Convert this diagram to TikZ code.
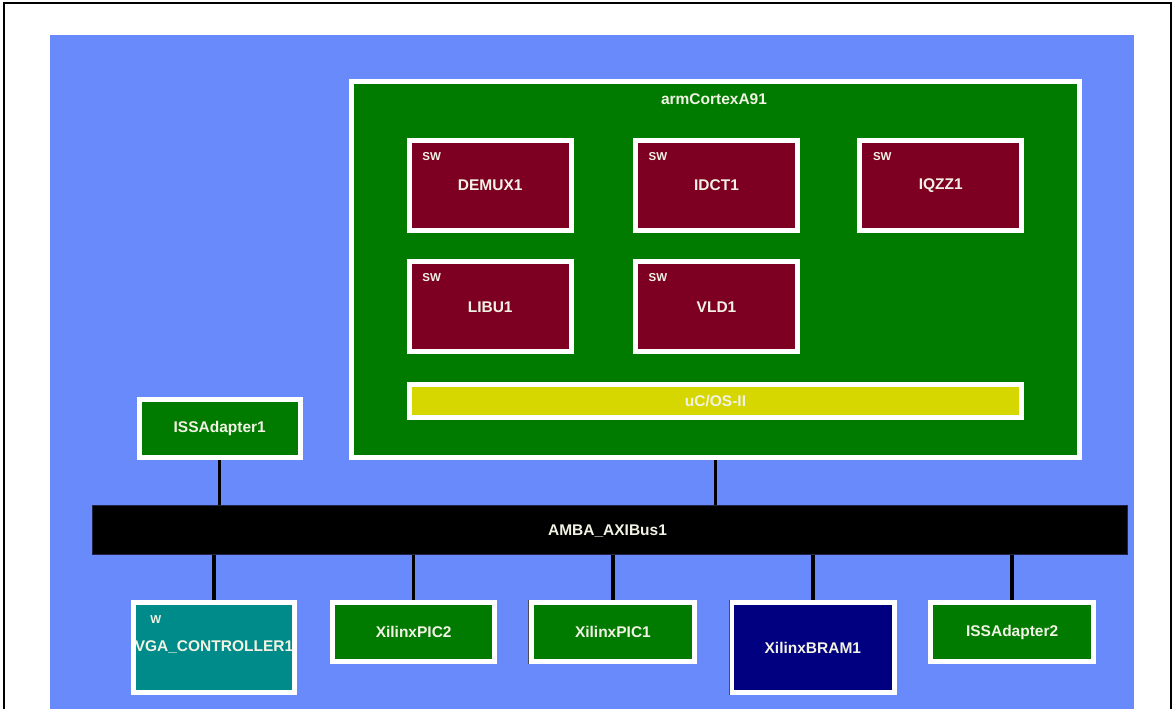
\documentclass[tikz,border=0pt]{standalone}
\usepackage{fontspec}
\setmainfont{Liberation Sans}
\definecolor{bgblue}{RGB}{105,138,250}
\definecolor{cpugreen}{RGB}{0,123,0}
\definecolor{swred}{RGB}{125,0,34}
\definecolor{osyellow}{RGB}{214,214,0}
\definecolor{vgateal}{RGB}{0,139,139}
\definecolor{bramnavy}{RGB}{0,0,128}
\definecolor{txt}{RGB}{242,242,228}
\definecolor{busedge}{RGB}{35,35,70}
\tikzset{
  blk/.style={draw=white, line width=5pt, inner sep=0pt, rectangle},
  lbl/.style={text=txt, font=\bfseries\fontsize{15.5}{18}\selectfont, inner sep=0pt},
  swlbl/.style={text=txt, font=\bfseries\fontsize{11.5}{13}\selectfont, inner sep=0pt},
  link/.style={draw=black, line width=3.5pt}
}
\begin{document}
\begin{tikzpicture}[x=1pt,y=-1pt]
\useasboundingbox (0,0) rectangle (1176,709);
\begin{scope}
\clip (0,0) rectangle (1176,709);
\fill[white] (0,0) rectangle (1176,709);
\draw[black, line width=2pt] (3.7,3) rectangle (1171,730);
\fill[bgblue] (50,35) rectangle (1133.5,730);

% connectors (drawn first, under boxes)
\coordinate (c0) at (0,0);
\end{scope}

% nodes
\node[blk, fill=cpugreen, minimum width=728.3pt, minimum height=375.7pt] (arm) at (715.65,269.65) {};
\node[lbl] (armlbl) at (714,99) {armCortexA91};

\node[blk, fill=swred, minimum width=162pt, minimum height=90pt] (demux) at (490.2,185.5) {};
\node[lbl] at (demux.center) {DEMUX1};
\node[swlbl] at ([shift={(25pt,-18.7pt)}]demux.north west) {SW};

\node[blk, fill=swred, minimum width=162pt, minimum height=90pt] (idct) at (716.5,185.5) {};
\node[lbl] at (idct.center) {IDCT1};
\node[swlbl] at ([shift={(25pt,-18.7pt)}]idct.north west) {SW};

\node[blk, fill=swred, minimum width=162pt, minimum height=90pt] (iqzz) at (940.8,185.5) {};
\node[lbl] at (iqzz.center) {IQZZ1};
\node[swlbl] at ([shift={(25pt,-18.7pt)}]iqzz.north west) {SW};

\node[blk, fill=swred, minimum width=162pt, minimum height=90pt] (libu) at (490.2,306.8) {};
\node[lbl] at (libu.center) {LIBU1};
\node[swlbl] at ([shift={(25pt,-18.7pt)}]libu.north west) {SW};

\node[blk, fill=swred, minimum width=162pt, minimum height=90pt] (vld) at (716.5,306.8) {};
\node[lbl] at (vld.center) {VLD1};
\node[swlbl] at ([shift={(25pt,-18.7pt)}]vld.north west) {SW};

\node[blk, fill=osyellow, minimum width=612.6pt, minimum height=33.3pt] (ucos) at (715.5,401.15) {};
\node[lbl] at (ucos.center) {uC/OS-II};

\node[blk, fill=cpugreen, minimum width=161pt, minimum height=58.3pt] (iss1) at (219.7,428.35) {};
\node[lbl] at (iss1.center) {ISSAdapter1};

\node[rectangle, fill=black, draw=busedge, line width=1pt, inner sep=0pt, minimum width=1035pt, minimum height=49.8pt] (bus) at (609.7,529.9) {};
\node[lbl] at (607.5,531) {AMBA\_AXIBus1};

\node[blk, fill=vgateal, minimum width=161.6pt, minimum height=90.3pt] (vga) at (214,647.65) {};
\begin{scope}
\clip ([shift={(5pt,5pt)}]vga.north west) rectangle ([shift={(-5pt,-5pt)}]vga.south east);
\node[lbl] at ([yshift=0.6pt]vga.center) {VGA\_CONTROLLER1};
\end{scope}
\node[swlbl] at ([shift={(25pt,-20pt)}]vga.north west) {W};

\node[blk, fill=cpugreen, minimum width=162.3pt, minimum height=59.3pt] (pic2) at (413.65,632.15) {};
\node[lbl] at (pic2.center) {XilinxPIC2};

\node[blk, fill=cpugreen, minimum width=163.4pt, minimum height=59pt] (pic1) at (612.9,632) {};
\node[lbl] at (pic1.center) {XilinxPIC1};
\draw[black!70, line width=1pt] (pic1.north west) -- (pic1.south west);

\node[blk, fill=bramnavy, minimum width=162.7pt, minimum height=90.3pt] (bram) at (812.85,647.65) {};
\node[lbl] at (bram.center) {XilinxBRAM1};
\draw[black!70, line width=1pt] (bram.north west) -- (bram.south west);

\node[blk, fill=cpugreen, minimum width=162.7pt, minimum height=59pt] (iss2) at (1012.15,632) {};
\node[lbl] at (iss2.center) {ISSAdapter2};

% connectors
\draw[link] (arm.south) -- (arm.south |- bus.north);
\draw[link] (iss1.south) -- (iss1.south |- bus.north);
\draw[link] (vga.north) -- (vga.north |- bus.south);
\draw[link] (pic2.north) -- (pic2.north |- bus.south);
\draw[link] (pic1.north) -- (pic1.north |- bus.south);
\draw[link] (bram.north) -- (bram.north |- bus.south);
\draw[link] (iss2.north) -- (iss2.north |- bus.south);
\end{tikzpicture}
\end{document}
